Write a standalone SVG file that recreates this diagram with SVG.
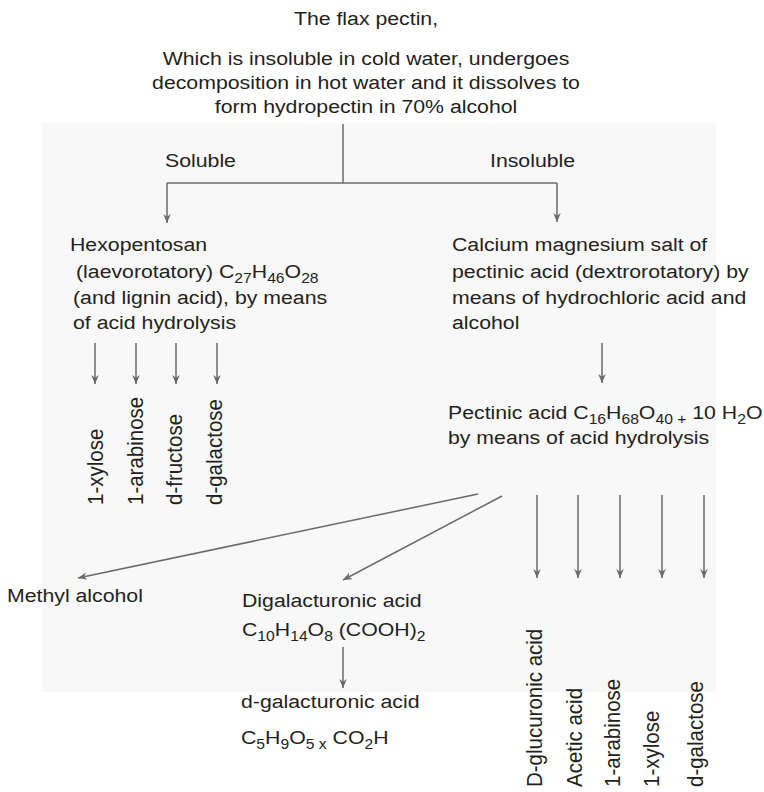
<svg xmlns="http://www.w3.org/2000/svg" width="764" height="792" viewBox="0 0 764 792">
<style>
text{font-family:"Liberation Sans",Arial,sans-serif;font-size:19px;fill:#231f20}
.v{font-size:20.5px}
.s{font-size:14px}
.c{text-anchor:middle}
.ln{stroke:#6a6a6a;stroke-width:1.5;fill:none}
</style>
<defs>
<marker id="ah" viewBox="0 0 10 10" refX="10" refY="5" markerWidth="9" markerHeight="9" markerUnits="userSpaceOnUse" orient="auto">
<path d="M0,0.8 L10,5 L0,9.2 L3,5 Z" fill="#6a6a6a"/>
</marker>
</defs>
<rect x="42" y="123" width="674" height="569" fill="#f8f8f8"/>
<g id="connectors">
<line class="ln" x1="343" y1="124" x2="343" y2="183"/>
<line class="ln" x1="167" y1="183" x2="557" y2="183"/>
<line class="ln" x1="167" y1="183" x2="167" y2="223" marker-end="url(#ah)"/>
<line class="ln" x1="557" y1="183" x2="557" y2="222" marker-end="url(#ah)"/>
<line class="ln" x1="95" y1="343" x2="95" y2="384" marker-end="url(#ah)"/>
<line class="ln" x1="136" y1="343" x2="136" y2="384" marker-end="url(#ah)"/>
<line class="ln" x1="176" y1="343" x2="176" y2="384" marker-end="url(#ah)"/>
<line class="ln" x1="217" y1="343" x2="217" y2="384" marker-end="url(#ah)"/>
<line class="ln" x1="602" y1="343" x2="602" y2="383" marker-end="url(#ah)"/>
<line class="ln" x1="478" y1="494" x2="78" y2="578" marker-end="url(#ah)"/>
<line class="ln" x1="502" y1="496" x2="343" y2="580" marker-end="url(#ah)"/>
<line class="ln" x1="537" y1="495" x2="537" y2="578" marker-end="url(#ah)"/>
<line class="ln" x1="578" y1="495" x2="578" y2="578" marker-end="url(#ah)"/>
<line class="ln" x1="620" y1="495" x2="620" y2="578" marker-end="url(#ah)"/>
<line class="ln" x1="662" y1="495" x2="662" y2="578" marker-end="url(#ah)"/>
<line class="ln" x1="704" y1="495" x2="704" y2="578" marker-end="url(#ah)"/>
<line class="ln" x1="343" y1="647" x2="343" y2="688" marker-end="url(#ah)"/>
</g>
<g id="root">
<text class="c" transform="translate(366,25) scale(1.12,1)">The flax pectin,</text>
<text class="c" transform="translate(366,65) scale(1.12,1)">Which is insoluble in cold water, undergoes</text>
<text class="c" transform="translate(366,89) scale(1.12,1)">decomposition in hot water and it dissolves to</text>
<text class="c" transform="translate(366,113) scale(1.12,1)">form hydropectin in 70% alcohol</text>
</g>
<g id="label-soluble"><text transform="translate(165,167) scale(1.12,1)">Soluble</text></g>
<g id="label-insoluble"><text transform="translate(490,167) scale(1.12,1)">Insoluble</text></g>
<g id="hexopentosan">
<text transform="translate(70,251) scale(1.12,1)">Hexopentosan</text>
<text transform="translate(76,278) scale(1.12,1)">(laevorotatory) C<tspan class="s" dy="5">27</tspan><tspan dy="-5">H</tspan><tspan class="s" dy="5">46</tspan><tspan dy="-5">O</tspan><tspan class="s" dy="5">28</tspan></text>
<text transform="translate(73,304) scale(1.12,1)">(and lignin acid), by means</text>
<text transform="translate(73,329) scale(1.12,1)">of acid hydrolysis</text>
</g>
<g id="calcium-salt">
<text transform="translate(452,251) scale(1.12,1)">Calcium magnesium salt of</text>
<text transform="translate(452,278) scale(1.12,1)">pectinic acid (dextrorotatory) by</text>
<text transform="translate(452,304) scale(1.12,1)">means of hydrochloric acid and</text>
<text transform="translate(452,329) scale(1.12,1)">alcohol</text>
</g>
<g id="left-products">
<text class="v" transform="translate(103,505) rotate(-90) scale(1,1.12)">1-xylose</text>
<text class="v" transform="translate(143,505) rotate(-90) scale(1,1.12)">1-arabinose</text>
<text class="v" transform="translate(182,505) rotate(-90) scale(1,1.12)">d-fructose</text>
<text class="v" transform="translate(222,505) rotate(-90) scale(1,1.12)">d-galactose</text>
</g>
<g id="pectinic-acid">
<text transform="translate(448,419) scale(1.12,1)">Pectinic acid C<tspan class="s" dy="5">16</tspan><tspan dy="-5">H</tspan><tspan class="s" dy="5">68</tspan><tspan dy="-5">O</tspan><tspan class="s" dy="5">40 +</tspan><tspan dy="-5"> 10 H</tspan><tspan class="s" dy="5">2</tspan><tspan dy="-5">O</tspan></text>
<text transform="translate(448,444) scale(1.12,1)">by means of acid hydrolysis</text>
</g>
<g id="methyl-alcohol"><text transform="translate(7,602) scale(1.12,1)">Methyl alcohol</text></g>
<g id="digalacturonic">
<text transform="translate(242,607) scale(1.12,1)">Digalacturonic acid</text>
<text transform="translate(242,636) scale(1.12,1)">C<tspan class="s" dy="5">10</tspan><tspan dy="-5">H</tspan><tspan class="s" dy="5">14</tspan><tspan dy="-5">O</tspan><tspan class="s" dy="5">8</tspan><tspan dy="-5"> (COOH)</tspan><tspan class="s" dy="5">2</tspan></text>
</g>
<g id="galacturonic">
<text transform="translate(241,708) scale(1.12,1)">d-galacturonic acid</text>
<text transform="translate(241,744) scale(1.12,1)">C<tspan class="s" dy="5">5</tspan><tspan dy="-5">H</tspan><tspan class="s" dy="5">9</tspan><tspan dy="-5">O</tspan><tspan class="s" dy="5">5 x</tspan><tspan dy="-5"> CO</tspan><tspan class="s" dy="5">2</tspan><tspan dy="-5">H</tspan></text>
</g>
<g id="right-products">
<text class="v" transform="translate(542,787) rotate(-90) scale(1,1.12)">D-glucuronic acid</text>
<text class="v" transform="translate(582,787) rotate(-90) scale(1,1.12)">Acetic acid</text>
<text class="v" transform="translate(620,787) rotate(-90) scale(1,1.12)">1-arabinose</text>
<text class="v" transform="translate(659,787) rotate(-90) scale(1,1.12)">1-xylose</text>
<text class="v" transform="translate(703,787) rotate(-90) scale(1,1.12)">d-galactose</text>
</g>
</svg>
